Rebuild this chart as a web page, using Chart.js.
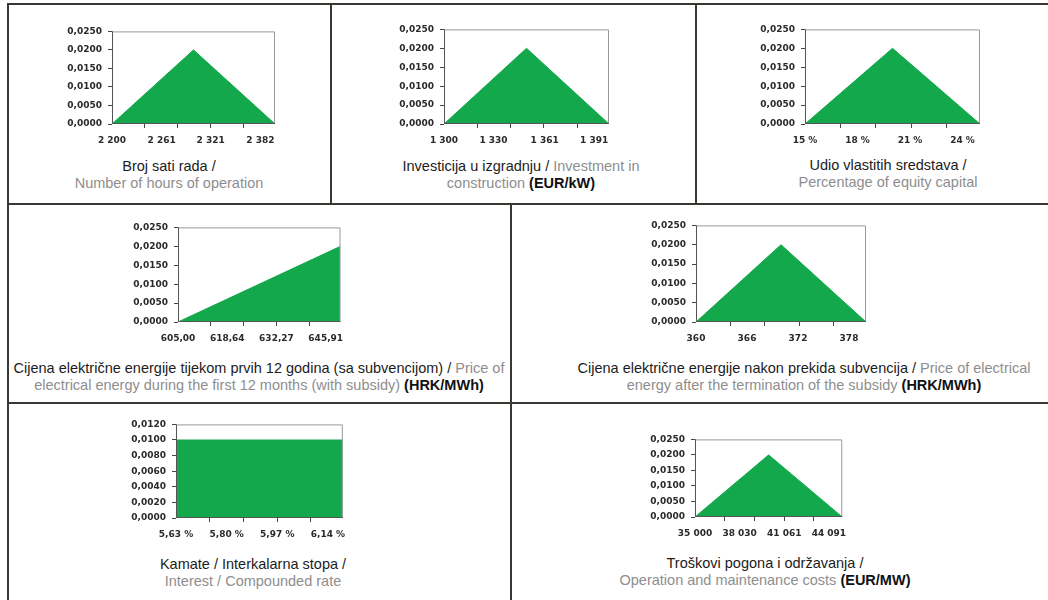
<!DOCTYPE html>
<html>
<head>
<meta charset="utf-8">
<title>Distribucije ulaznih parametara</title>
<script src="https://cdn.jsdelivr.net/npm/chart.js@4.4.1/dist/chart.umd.min.js"></script>
<style>
  html, body { margin: 0; padding: 0; background: #fff; }
  body { width: 1048px; height: 600px; position: relative; overflow: hidden;
         font-family: "Liberation Sans", Arial, sans-serif; }
  .rule { position: absolute; background: #3b3833; }
  canvas { position: absolute; }
  .caption { position: absolute; transform: translateX(-50%); white-space: nowrap; text-align: center;
             font-size: 14.5px; line-height: 17px; color: #1c1c1c; }
  .caption .en { color: #8e8e8e; }
  .caption b { color: #111; }
</style>
</head>
<body>

<!-- table rules -->
<div class="rule" style="left:7px;top:3px;width:1041px;height:2px"></div>
<div class="rule" style="left:7px;top:3px;width:2px;height:597px"></div>
<div class="rule" style="left:7px;top:203px;width:1041px;height:2px"></div>
<div class="rule" style="left:7px;top:402px;width:1041px;height:2px"></div>
<div class="rule" style="left:330px;top:3px;width:2px;height:201px"></div>
<div class="rule" style="left:695px;top:3px;width:2px;height:201px"></div>
<div class="rule" style="left:510px;top:203px;width:2px;height:397px"></div>

<canvas id="chHours" width="243" height="134" style="left:42px;top:20px"></canvas>
<canvas id="chInvest" width="245" height="136" style="left:374px;top:18px"></canvas>
<canvas id="chEquity" width="255" height="136" style="left:735px;top:18px"></canvas>
<canvas id="chPriceSub" width="243" height="136" style="left:108px;top:216px"></canvas>
<canvas id="chPriceAfter" width="250" height="138" style="left:626px;top:214px"></canvas>
<canvas id="chInterest" width="247" height="135" style="left:106px;top:413px"></canvas>
<canvas id="chOm" width="229" height="119" style="left:625px;top:428px"></canvas>

<div class="caption" style="left:169px;top:158px">Broj sati rada /<br><span class="en">Number of hours of operation</span></div>
<div class="caption" style="left:521px;top:158px">Investicija u izgradnju / <span class="en">Investment in</span><br><span class="en">construction</span> <b>(EUR/kW)</b></div>
<div class="caption" style="left:888px;top:157px">Udio vlastitih sredstava /<br><span class="en">Percentage of equity capital</span></div>
<div class="caption" style="left:259px;top:360px">Cijena električne energije tijekom prvih 12 godina (sa subvencijom) / <span class="en">Price of</span><br><span class="en">electrical energy during the first 12 months (with subsidy)</span> <b>(HRK/MWh)</b></div>
<div class="caption" style="left:804px;top:360px">Cijena električne energije nakon prekida subvencija / <span class="en">Price of electrical</span><br><span class="en">energy after the termination of the subsidy</span> <b>(HRK/MWh)</b></div>
<div class="caption" style="left:253px;top:556px">Kamate / Interkalarna stopa /<br><span class="en">Interest / Compounded rate</span></div>
<div class="caption" style="left:765px;top:555px">Troškovi pogona i održavanja /<br><span class="en">Operation and maintenance costs</span> <b>(EUR/MW)</b></div>

<script>
// shape corners of each distribution (x = parameter value, y = probability)
var hoursX = [2200, 2300, 2400];
var hoursY = [0, 0.02, 0];
var hoursTicks = ['2 200', '2 261', '2 321', '2 382'];

var investX = [1300, 1350, 1400];
var investY = [0, 0.02, 0];
var investTicks = ['1 300', '1 330', '1 361', '1 391'];

var equityX = [15, 20, 25];
var equityY = [0, 0.02, 0];
var equityTicks = ['15 %', '18 %', '21 %', '24 %'];

var priceSubX = [605, 650];
var priceSubY = [0, 0.02];
var priceSubTicks = ['605,00', '618,64', '632,27', '645,91'];

var priceAfterX = [360, 370, 380];
var priceAfterY = [0, 0.02, 0];
var priceAfterTicks = ['360', '366', '372', '378'];

var interestX = [5.63, 6.19];
var interestY = [0.01, 0.01];
var interestTicks = ['5,63 %', '5,80 %', '5,97 %', '6,14 %'];

var omX = [35000, 40000, 45000];
var omY = [0, 0.02, 0];
var omTicks = ['35 000', '38 030', '41 061', '44 091'];

var GREEN = '#12a84b';
var TEXT = '#2a2a2a';
var STEPS = 99, MARK_EVERY = 20;   // category axis: 99 steps, a tick mark every 20

var toNumber = function(s){
    return Number(s.replace(/[\s%]/g, '').replace(',', '.'));
};

// grey box round the plot, darker left and bottom axis lines
var plotFrame = {
    id: 'plotFrame',
    afterDatasetsDraw: function(chart){
        var ctx = chart.ctx, a = chart.chartArea;
        ctx.save();
        ctx.lineWidth = 1;
        ctx.strokeStyle = '#9a9a9a';
        ctx.beginPath();
        ctx.moveTo(a.left, a.top + 0.5);
        ctx.lineTo(a.right - 0.5, a.top + 0.5);
        ctx.lineTo(a.right - 0.5, a.bottom);
        ctx.stroke();
        ctx.strokeStyle = '#555';
        ctx.beginPath();
        ctx.moveTo(a.left + 0.5, a.top);
        ctx.lineTo(a.left + 0.5, a.bottom - 0.5);
        ctx.lineTo(a.right, a.bottom - 0.5);
        ctx.stroke();
        ctx.restore();
    }
};

var makeChart = function(id, xs, ys, tickLabels, yMax, yStep){
    var points = xs.map(function(x, i){ return {x: x, y: ys[i]}; });
    var lo = xs[0], hi = xs[xs.length - 1];
    var font = {family: 'DejaVu Sans', size: 9, weight: 'bold'};
    return new Chart(document.getElementById(id), {
        type: 'line',
        data: {
            datasets: [{
                data: points,
                fill: 'origin',
                backgroundColor: GREEN,
                borderColor: GREEN,
                borderWidth: 1,
                pointRadius: 0,
                tension: 0
            }]
        },
        options: {
            responsive: false,
            animation: false,
            layout: {padding: {left: 0, top: 10, right: 10, bottom: 0}},
            plugins: {legend: {display: false}, tooltip: {enabled: false}},
            scales: {
                x: {
                    type: 'linear',
                    min: lo,
                    max: hi,
                    border: {display: false},
                    grid: {
                        drawOnChartArea: false,
                        tickLength: 4,
                        tickColor: function(c){ return c.tick && c.tick.mark ? '#444' : 'rgba(0,0,0,0)'; }
                    },
                    afterBuildTicks: function(axis){
                        var list = tickLabels.map(function(s){ return {value: toNumber(s), text: s}; });
                        for (var k = MARK_EVERY; k < STEPS; k += MARK_EVERY) {
                            list.push({value: lo + (hi - lo) * k / STEPS, text: '', mark: true});
                        }
                        list.sort(function(a, b){ return a.value - b.value; });
                        axis.ticks = list;
                    },
                    afterFit: function(axis){ axis.height = 30; },
                    ticks: {
                        autoSkip: false,
                        maxRotation: 0,
                        padding: 7,
                        color: TEXT,
                        font: font,
                        callback: function(v, i, ticks){ return ticks[i].text; }
                    }
                },
                y: {
                    min: 0,
                    max: yMax,
                    border: {display: false},
                    grid: {drawOnChartArea: false, tickLength: 4, tickColor: '#444'},
                    afterFit: function(axis){ axis.width = 70; },
                    ticks: {
                        stepSize: yStep,
                        padding: 6,
                        color: TEXT,
                        font: font,
                        callback: function(v){ return v.toFixed(4).replace('.', ','); }
                    }
                }
            }
        },
        plugins: [plotFrame]
    });
};

makeChart('chHours', hoursX, hoursY, hoursTicks, 0.025, 0.005);
makeChart('chInvest', investX, investY, investTicks, 0.025, 0.005);
makeChart('chEquity', equityX, equityY, equityTicks, 0.025, 0.005);
makeChart('chPriceSub', priceSubX, priceSubY, priceSubTicks, 0.025, 0.005);
makeChart('chPriceAfter', priceAfterX, priceAfterY, priceAfterTicks, 0.025, 0.005);
makeChart('chInterest', interestX, interestY, interestTicks, 0.012, 0.002);
makeChart('chOm', omX, omY, omTicks, 0.025, 0.005);
</script>
</body>
</html>
